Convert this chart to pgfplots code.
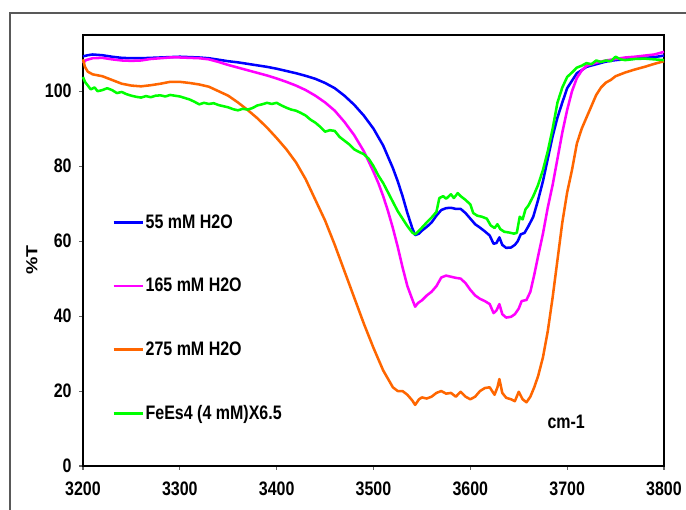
\documentclass[border=0pt]{standalone}
\usepackage{fontspec}
\setmainfont{Liberation Sans}
\usepackage{graphicx}
\usepackage{pgfplots}
\pgfplotsset{compat=1.18}
\definecolor{cblue}{RGB}{0,0,255}
\definecolor{cpink}{RGB}{255,0,255}
\definecolor{corange}{RGB}{255,102,0}
\definecolor{cgreen}{RGB}{0,255,0}
\newcommand\st[1]{\scalebox{1}[1.22]{#1}}
\begin{document}
\begin{tikzpicture}[x=1pt,y=1pt]
\useasboundingbox (0,0) rectangle (514.5,382.5);
\draw[black!65, line width=1pt] (7.5,0) -- (7.5,372.75) -- (514.5,372.75);
\begin{axis}[
  at={(62.25pt,33pt)}, anchor=south west,
  width=435.75pt, height=323.25pt, scale only axis,
  xmin=3200, xmax=3800, ymin=0, ymax=115,
  xtick={3200,3300,...,3800}, ytick={0,20,...,100},
  xtick pos=bottom, ytick pos=left,
  tick align=outside, major tick length=3pt,
  tick style={black!60, line width=0.8pt},
  axis line style={black, line width=1.8pt},
  /pgf/number format/assume math mode=true,
  /pgf/number format/1000 sep={},
  xticklabel={\st{\pgfmathprintnumber{\tick}}},
  yticklabel={\st{\pgfmathprintnumber{\tick}}},
  ticklabel style={font=\fontsize{12}{14}\selectfont\bfseries},
  xticklabel style={yshift=-5pt},
  yticklabel style={xshift=-2pt},
  clip=false,
  legend cell align=left,
  legend style={at={(axis cs:3226,68.6)}, anchor=north west, draw=none, fill=none,
    font=\fontsize{12}{14}\selectfont\bfseries, row sep=32pt,
    /tikz/every even column/.append style={column sep=0pt},
    nodes={inner xsep=1pt}},
  legend image code/.code={\draw[#1] (0pt,0pt) -- (22pt,0pt);},
  every axis plot/.append style={line width=1.9pt, line join=round},
]
\addplot[cblue] coordinates {(3200,109.3)(3205,109.6)(3210,109.8)(3220,109.6)(3230,109.2)(3240,108.9)(3250,108.8)(3260,108.8)(3270,108.9)(3280,109.0)(3290,109.1)(3300,109.2)(3310,109.1)(3320,109.0)(3330,108.8)(3340,108.4)(3350,108.0)(3360,107.7)(3370,107.3)(3380,106.9)(3390,106.5)(3400,106.0)(3410,105.4)(3420,104.8)(3430,104.1)(3440,103.3)(3450,102.2)(3460,100.8)(3470,98.8)(3480,96.4)(3490,93.5)(3500,90.0)(3510,85.5)(3520,79.5)(3525,76)(3530,72)(3535,67.5)(3540,63.5)(3543,61.6)(3547,62.0)(3550,62.8)(3555,63.8)(3560,65.0)(3565,66.8)(3570,68.3)(3575,68.8)(3580,68.9)(3585,68.6)(3590,68.6)(3595,67.5)(3600,66.0)(3605,64.5)(3610,63.6)(3615,62.6)(3620,61.5)(3624,59.3)(3627,59.5)(3630,61.0)(3633,59.0)(3637,58.2)(3642,58.3)(3646,59.0)(3649,60.0)(3652,61.8)(3656,62.2)(3660,64)(3665,66.5)(3670,71.0)(3675,76)(3680,82)(3685,88)(3690,93)(3695,97)(3700,100.8)(3705,102.8)(3710,104.8)(3715,105.6)(3720,106.5)(3730,107.2)(3740,107.9)(3750,108.3)(3760,108.5)(3770,108.7)(3780,108.9)(3790,109.1)(3800,109.5)};
\addlegendentry{\st{55 mM H2O}}
\addplot[cpink] coordinates {(3200,107.5)(3203,108.3)(3210,108.8)(3220,108.9)(3230,108.5)(3240,108.2)(3250,108.1)(3260,108.2)(3270,108.6)(3280,108.8)(3290,109)(3300,109)(3310,108.9)(3320,108.8)(3330,108.5)(3340,107.8)(3350,107)(3360,106.3)(3370,105.6)(3380,104.9)(3390,104.2)(3400,103.4)(3410,102.5)(3420,101.5)(3430,100.3)(3440,98.8)(3450,97)(3460,94.8)(3470,91.8)(3480,88.3)(3490,84)(3500,78.5)(3505,75.5)(3510,72)(3515,68)(3520,63.5)(3525,58.5)(3530,53)(3535,48)(3540,44.5)(3543,42.5)(3546,43.5)(3550,44.2)(3555,45.5)(3560,46.5)(3565,48.0)(3570,50.3)(3575,50.8)(3580,50.5)(3585,50.2)(3590,50.0)(3595,48.8)(3600,47.0)(3605,45.5)(3610,44.6)(3615,44.0)(3620,43.2)(3624,40.8)(3627,41.5)(3630,43.2)(3633,40.5)(3637,39.6)(3642,39.8)(3646,40.5)(3650,42.0)(3653,44.0)(3658,44.3)(3662,46.5)(3666,51)(3670,56)(3675,62)(3680,69)(3685,75)(3690,82)(3695,89)(3700,95)(3705,100)(3710,103.5)(3715,105.5)(3720,106.8)(3730,107.6)(3740,108.2)(3750,108.6)(3760,109)(3770,109.2)(3780,109.5)(3790,109.8)(3800,110.5)};
\addlegendentry{\st{165 mM H2O}}
\addplot[corange] coordinates {(3200,108.5)(3202,106.5)(3205,105.2)(3210,104.5)(3220,104)(3230,103)(3240,102)(3250,101.5)(3260,101.3)(3270,101.6)(3280,102)(3290,102.5)(3300,102.5)(3310,102.2)(3320,101.8)(3330,101.2)(3340,100)(3350,98.8)(3360,97)(3370,95)(3380,92.8)(3390,90.3)(3400,87.5)(3410,84.5)(3420,81)(3430,76.5)(3440,71)(3450,65.5)(3460,59)(3470,52)(3480,45)(3490,38)(3500,31.5)(3510,25.5)(3520,21)(3525,20)(3530,20)(3535,19)(3540,17.5)(3543,16.3)(3547,17.8)(3550,18.3)(3555,18)(3560,18.5)(3565,19.5)(3570,20)(3575,19.3)(3580,19.5)(3585,18.5)(3590,19.8)(3595,18.5)(3600,17.8)(3605,18.5)(3610,20)(3615,20.8)(3620,21)(3625,19)(3628,21)(3630,23.2)(3633,19.5)(3637,18.2)(3642,17.8)(3646,17.3)(3650,19.8)(3654,17.8)(3658,17.0)(3662,18.5)(3666,21)(3670,24)(3675,29)(3680,36)(3685,45)(3690,55)(3695,65)(3700,73)(3705,79)(3710,86)(3715,90)(3720,93)(3725,96)(3730,99)(3735,101)(3740,102.3)(3745,103)(3750,104)(3760,105)(3770,105.8)(3780,106.5)(3790,107.3)(3800,108)};
\addlegendentry{\st{275 mM H2O}}
\addplot[cgreen] coordinates {(3200,103.8)(3202,102.5)(3205,101.5)(3208,100.5)(3212,101)(3215,100)(3220,100.3)(3225,100.8)(3230,100.3)(3235,99.5)(3240,99.8)(3245,99.2)(3250,98.8)(3255,98.5)(3260,98.3)(3265,98.7)(3270,98.4)(3275,98.8)(3280,98.9)(3285,98.6)(3290,99.0)(3295,98.8)(3300,98.6)(3305,98.2)(3310,97.8)(3315,97.2)(3320,96.5)(3325,96.9)(3330,96.6)(3335,96.8)(3340,96.3)(3345,96.0)(3350,95.7)(3355,95.2)(3360,94.9)(3365,95.3)(3370,95.1)(3375,95.5)(3380,96.2)(3385,96.5)(3390,96.9)(3395,96.6)(3400,96.9)(3405,96.2)(3410,95.6)(3415,95.1)(3420,94.8)(3425,94.2)(3430,93.5)(3435,92.4)(3440,91.6)(3445,90.5)(3450,89.2)(3455,89.6)(3460,89.4)(3465,87.8)(3470,86.8)(3475,85.8)(3480,84.5)(3485,83.8)(3490,83.2)(3495,82.0)(3500,80.0)(3505,77.5)(3510,75.5)(3515,73)(3520,70.5)(3525,68)(3530,66)(3535,64)(3540,62.3)(3543,61.8)(3547,62.8)(3550,63.6)(3555,65.0)(3560,66.3)(3565,67.8)(3568,71.5)(3572,72.0)(3575,71.3)(3580,72.5)(3583,71.5)(3587,72.8)(3590,72.0)(3595,71.0)(3600,69.8)(3603,67.5)(3607,66.8)(3612,66.5)(3617,66.0)(3621,64.2)(3625,63.5)(3628,64.5)(3631,63.2)(3635,62.5)(3640,62.3)(3645,62.0)(3648,62.2)(3651,66.5)(3654,65.8)(3657,68.5)(3660,69.5)(3665,72)(3670,75)(3675,79)(3680,84)(3685,90)(3690,97)(3695,101)(3700,103.8)(3705,105)(3710,106.3)(3715,106.8)(3720,107.5)(3725,107.2)(3730,108.2)(3735,107.8)(3740,108.2)(3745,108.0)(3750,109.2)(3755,108.5)(3760,108.3)(3770,108.6)(3780,108.7)(3790,108.5)(3800,108.3)};
\addlegendentry{\st{FeEs4 (4 mM)X6.5}}
\node[font=\fontsize{12}{14}\selectfont\bfseries] at (axis cs:3699,11.8) {\st{cm-1}};
\node[font=\fontsize{12}{14}\selectfont\bfseries, rotate=90] at (rel axis cs:-0.088,0.478) {\scalebox{1.22}[1]{\%T}};
\end{axis}
\end{tikzpicture}
\end{document}
